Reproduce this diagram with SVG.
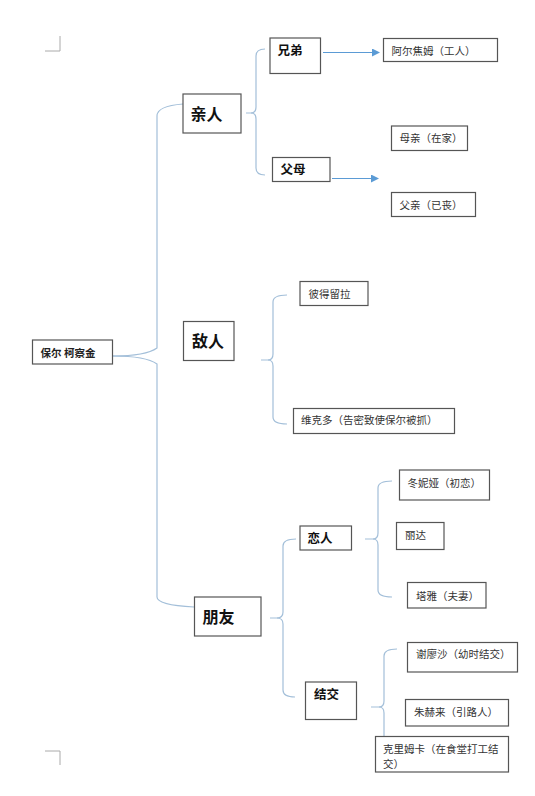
<svg xmlns="http://www.w3.org/2000/svg" width="535" height="796" viewBox="0 0 535 796">
<style>
  .box { fill: #ffffff; stroke: #555555; stroke-width: 1.2; }
  .t1 { font-family: "Noto Sans CJK SC", "Noto Sans", sans-serif; font-size: 16px; font-weight: bold; fill: #111111; }
  .t2 { font-family: "Noto Sans CJK SC", "Noto Sans", sans-serif; font-size: 12.5px; font-weight: bold; fill: #111111; }
  .t3 { font-family: "Noto Sans CJK SC", "Noto Sans", sans-serif; font-size: 10.5px; fill: #333333; }
  .t0 { font-family: "Noto Sans CJK SC", "Noto Sans", sans-serif; font-size: 10.5px; font-weight: bold; fill: #222222; }
  .brace { fill: none; stroke: #a3bfd9; stroke-width: 1.2; }
  .arrow { fill: none; stroke: #5b9bd5; stroke-width: 1.2; marker-end: url(#ah); }
  .mark { fill: none; stroke: #aaaaaa; stroke-width: 1; }
</style>
<defs>
  <marker id="ah" markerWidth="8" markerHeight="8" refX="7" refY="4" orient="auto" markerUnits="userSpaceOnUse">
    <path d="M0,0 L8,4 L0,8 Z" fill="#5b9bd5"/>
  </marker>
</defs>
<rect width="535" height="796" fill="#ffffff"/>
<g id="marks">
  <path class="mark" d="M45,51 H60 V36"/>
  <path class="mark" d="M45,751 H60 V765"/>
</g>
<g id="connectors">
  <!-- main brace -->
  <path class="brace" d="M113,356 C135,356 150,353 157,348 L157,116 Q157,106 183,104"/>
  <path class="brace" d="M113,356 C135,356 150,359 157,364 L157,597 Q157,605 194,607"/>
  <!-- 亲人 brace -->
  <path class="brace" d="M246,113 H251 Q256,113 256,107 V56 Q256,49 265,49"/>
  <path class="brace" d="M251,113 Q256,113 256,119 V168 Q256,175 265,175"/>
  <!-- 敌人 brace -->
  <path class="brace" d="M261,360 H268 Q273,360 273,354 V302 Q273,295 287,295"/>
  <path class="brace" d="M268,360 Q273,360 273,366 V417 Q273,424 287,424"/>
  <!-- 朋友 brace -->
  <path class="brace" d="M270,618 H277 Q283,618 283,612 V546 Q283,539 296,539"/>
  <path class="brace" d="M277,618 Q283,618 283,624 V690 Q283,697 295,697"/>
  <!-- 恋人 brace -->
  <path class="brace" d="M365,539 H373 Q378,539 378,533 V488 Q378,481 392,481"/>
  <path class="brace" d="M373,539 Q378,539 378,545 V590 Q378,597 392,597"/>
  <!-- 结交 brace -->
  <path class="brace" d="M371,707 H379 Q384,707 384,701 V656 Q384,649 397,649"/>
  <path class="brace" d="M379,707 Q384,707 384,713 V737"/>
  <!-- arrows -->
  <path class="arrow" d="M323,52.5 L379,52.5"/>
  <path class="arrow" d="M332,178.5 L378,178.5"/>
</g>
<g id="n-root">
  <rect class="box" x="32.5" y="340" width="80" height="24"/>
  <text class="t0" x="40.5" y="357">保尔 柯察金</text>
</g>
<g id="n-qinren">
  <rect class="box" x="183" y="94" width="58" height="39"/>
  <text class="t1" x="190.5" y="120">亲人</text>
</g>
<g id="n-diren">
  <rect class="box" x="183.5" y="321.5" width="50.5" height="39"/>
  <text class="t1" x="192" y="347">敌人</text>
</g>
<g id="n-pengyou">
  <rect class="box" x="194.5" y="597" width="66.5" height="39"/>
  <text class="t1" x="202.5" y="623">朋友</text>
</g>
<g id="n-xiongdi">
  <rect class="box" x="270" y="38" width="50.5" height="35.5"/>
  <text class="t2" x="277.5" y="55">兄弟</text>
</g>
<g id="n-fumu">
  <rect class="box" x="272.5" y="157.5" width="57.5" height="24"/>
  <text class="t2" x="280.5" y="174">父母</text>
</g>
<g id="n-lianren">
  <rect class="box" x="300" y="526" width="51.5" height="24"/>
  <text class="t2" x="307.5" y="543">恋人</text>
</g>
<g id="n-jiejiao">
  <rect class="box" x="305.5" y="682" width="51" height="37.5"/>
  <text class="t2" x="314" y="699">结交</text>
</g>
<g id="n-aerjiaomu">
  <rect class="box" x="383.5" y="38.5" width="114" height="23"/>
  <text class="t3" x="391.5" y="55">阿尔焦姆（工人）</text>
</g>
<g id="n-muqin">
  <rect class="box" x="391.5" y="126" width="76" height="24.5"/>
  <text class="t3" x="399.5" y="141.5">母亲（在家）</text>
</g>
<g id="n-fuqin">
  <rect class="box" x="391.5" y="192.5" width="84" height="24"/>
  <text class="t3" x="399.5" y="209">父亲（已丧）</text>
</g>
<g id="n-bideliula">
  <rect class="box" x="300" y="281.5" width="68" height="24"/>
  <text class="t3" x="308.5" y="298">彼得留拉</text>
</g>
<g id="n-weikeduo">
  <rect class="box" x="293.5" y="408.5" width="161" height="25"/>
  <text class="t3" x="301" y="424">维克多（告密致使保尔被抓）</text>
</g>
<g id="n-dongniya">
  <rect class="box" x="399.5" y="470" width="90" height="30"/>
  <text class="t3" x="407.5" y="486.5">冬妮娅（初恋）</text>
</g>
<g id="n-lida">
  <rect class="box" x="396.5" y="522.5" width="47.5" height="27"/>
  <text class="t3" x="405" y="539">丽达</text>
</g>
<g id="n-taya">
  <rect class="box" x="407.5" y="582.5" width="78.5" height="25.5"/>
  <text class="t3" x="416" y="600">塔雅（夫妻）</text>
</g>
<g id="n-xieliaosha">
  <rect class="box" x="407.5" y="642.5" width="110" height="29.5"/>
  <text class="t3" x="416" y="658">谢廖沙（幼时结交）</text>
</g>
<g id="n-zhuhelai">
  <rect class="box" x="405.5" y="699.5" width="103" height="26.5"/>
  <text class="t3" x="414" y="715.5">朱赫来（引路人）</text>
</g>
<g id="n-kelimuka">
  <rect class="box" x="375.5" y="736.5" width="133" height="35.5"/>
  <text class="t3" x="383" y="752.5">克里姆卡（在食堂打工结</text>
  <text class="t3" x="383" y="768">交）</text>
</g>
</svg>
